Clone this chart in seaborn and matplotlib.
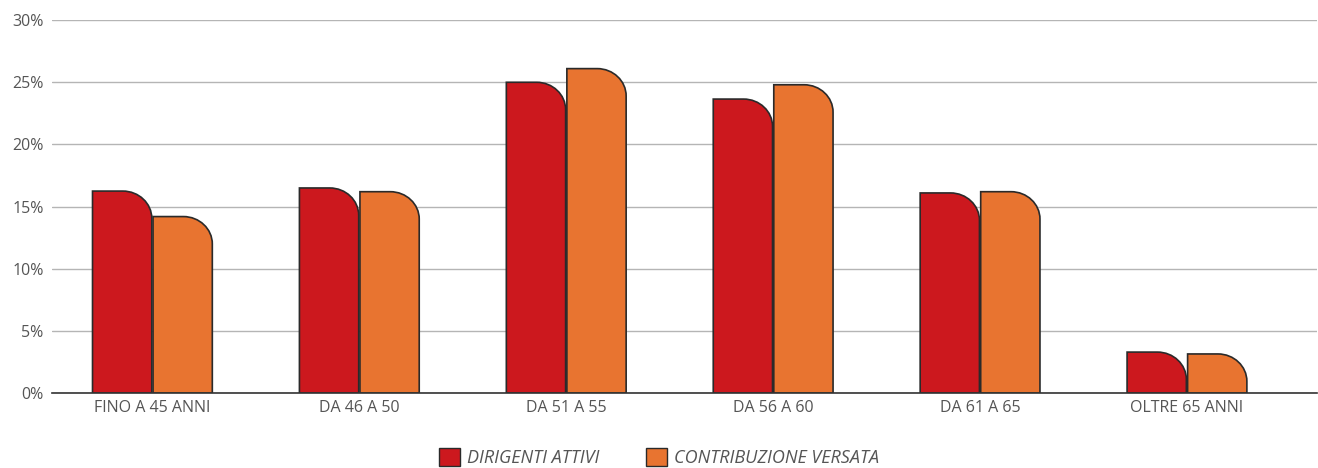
import matplotlib
matplotlib.use("Agg")
import matplotlib.pyplot as plt
import numpy as np
import pandas as pd
import seaborn as sns
from matplotlib.patches import Patch, PathPatch
from matplotlib.path import Path
from matplotlib.ticker import FuncFormatter

CATEGORIES = ["FINO A 45 ANNI", "DA 46 A 50", "DA 51 A 55", "DA 56 A 60", "DA 61 A 65", "OLTRE 65 ANNI"]
SERIES = ["DIRIGENTI ATTIVI", "CONTRIBUZIONE VERSATA"]
DIRIGENTI = [16.25, 16.5, 25.0, 23.65, 16.1, 3.3]
CONTRIBUZIONE = [14.2, 16.2, 26.1, 24.8, 16.2, 3.15]
COLORS = ["#CC181E", "#E87430"]

df = pd.DataFrame({
    "categoria": CATEGORIES * 2,
    "serie": [SERIES[0]] * len(CATEGORIES) + [SERIES[1]] * len(CATEGORIES),
    "valore": DIRIGENTI + CONTRIBUZIONE,
})

sns.set_theme(style="white")
plt.rcParams["font.family"] = ["Open Sans", "DejaVu Sans"]

fig = plt.figure(figsize=(13.18, 4.68), dpi=100)
ax = fig.add_axes([0.0395, 0.160, 0.960, 0.797])

sns.barplot(data=df, x="categoria", y="valore", hue="serie", palette=COLORS,
            width=0.585, gap=0, ax=ax, legend=False, saturation=1)

ax.set_xlim(-0.485, 5.63)
ax.set_ylim(0, 30)


def rounded_bar(x0, x1, top, rx, ry):
    # bar with rounded top-right corner
    ry = min(ry, top)
    k = 0.5523
    verts = [
        (x0, 0), (x0, top), (x1 - rx, top),
        (x1 - rx + k * rx, top), (x1, top - ry + k * ry), (x1, top - ry),
        (x1, 0), (x0, 0),
    ]
    codes = [Path.MOVETO, Path.LINETO, Path.LINETO,
             Path.CURVE4, Path.CURVE4, Path.CURVE4,
             Path.LINETO, Path.CLOSEPOLY]
    return Path(verts, codes)


# replace seaborn rectangles with rounded shapes
bars = list(ax.patches)
for p in bars:
    x0 = p.get_x()
    w = p.get_width()
    h = p.get_height()
    if h <= 0:
        continue
    path = rounded_bar(x0 + 0.003, x0 + w - 0.003, h, 0.14, 2.2)
    ax.add_patch(PathPatch(path, facecolor=p.get_facecolor(), edgecolor="#2a2a2a",
                           linewidth=1.2, zorder=3))
    p.remove()

ax.yaxis.set_major_locator(plt.MultipleLocator(5))
ax.yaxis.set_major_formatter(FuncFormatter(lambda v, _: f"{v:.0f}%"))
ax.grid(axis="y", color="#b5b5b5", linewidth=1)
ax.set_axisbelow(True)
for s in ["top", "right", "left"]:
    ax.spines[s].set_visible(False)
ax.spines["bottom"].set_color("#333333")
ax.spines["bottom"].set_linewidth(1.2)
ax.spines["bottom"].set_zorder(4)
ax.tick_params(axis="both", length=0, labelsize=11.5, labelcolor="#555555")
ax.tick_params(axis="y", pad=6)
ax.tick_params(axis="x", pad=5)
ax.set_xlabel("")
ax.set_ylabel("")

handles = [Patch(facecolor=c, edgecolor="#2a2a2a", linewidth=1, label=s)
           for c, s in zip(COLORS, SERIES)]
leg = fig.legend(handles=handles, loc="center", bbox_to_anchor=(0.5, 0.022), ncol=2,
                 frameon=False, handlelength=1.15, handleheight=1.15, handletextpad=0.4,
                 columnspacing=2.6, prop={"size": 13, "style": "italic"},
                 borderaxespad=0, borderpad=0)
for t in leg.get_texts():
    t.set_color("#555555")

fig.savefig("out.png", dpi=100)
